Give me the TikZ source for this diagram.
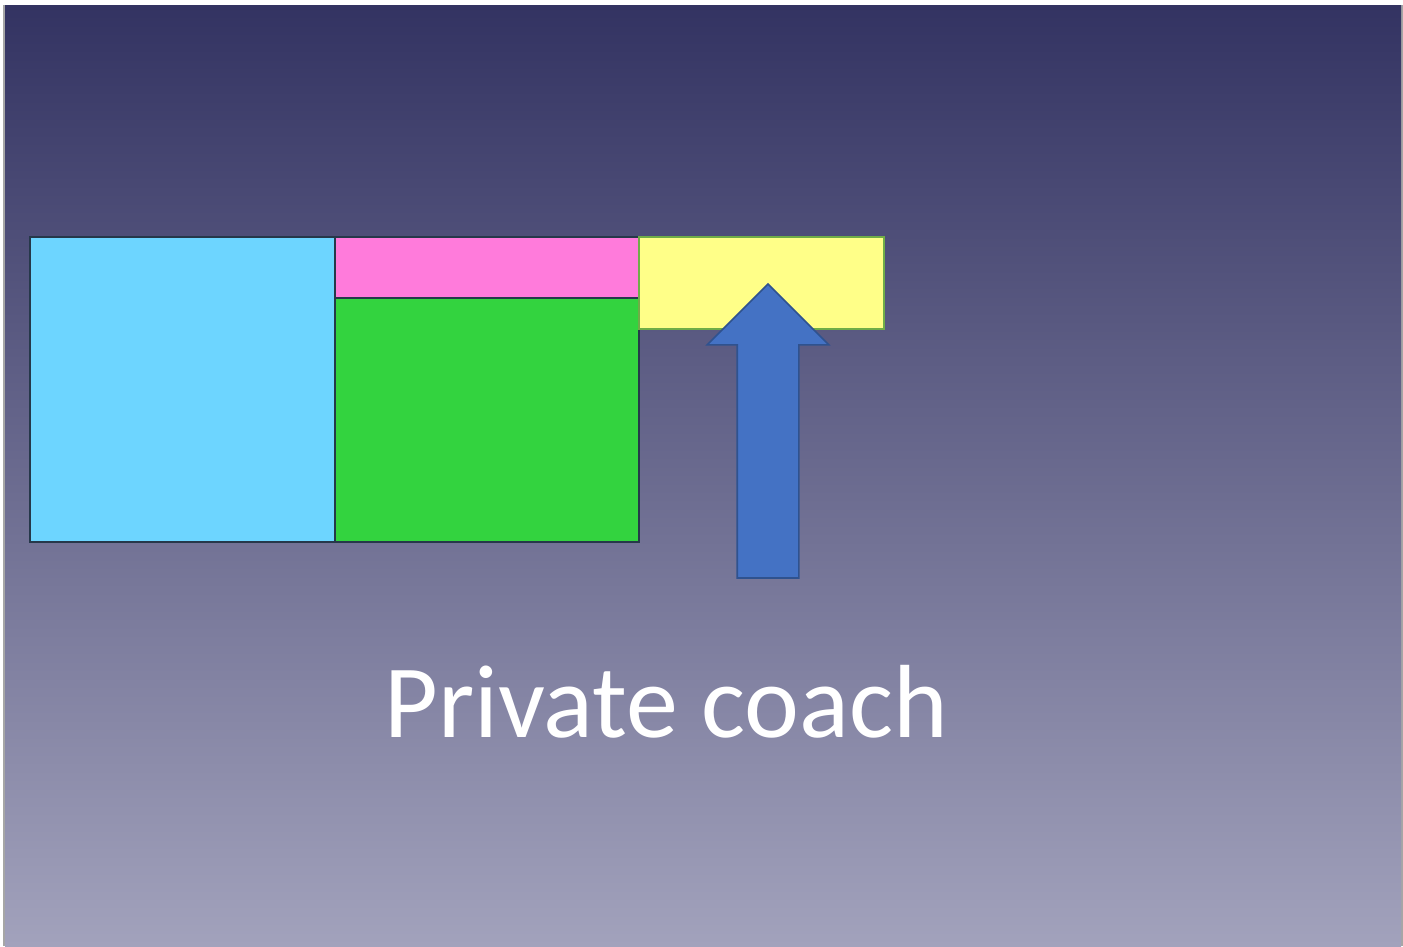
\documentclass[tikz,border=0pt]{standalone}
\usepackage{fontspec}
\setmainfont{Carlito}
\usetikzlibrary{shapes.arrows, positioning}
\definecolor{pcTop}{HTML}{333362}
\definecolor{pcBottom}{HTML}{A2A2BC}
\definecolor{pcCyan}{HTML}{6DD5FF}
\definecolor{pcPink}{HTML}{FF7BDB}
\definecolor{pcGreen}{HTML}{33D33F}
\definecolor{pcYellow}{HTML}{FFFF88}
\definecolor{pcYellowEdge}{HTML}{70AD47}
\definecolor{pcArrow}{HTML}{4472C4}
\definecolor{pcArrowEdge}{HTML}{2F528F}
\definecolor{pcEdge}{HTML}{26384A}
\tikzset{
  pcbox/.style={
    draw=pcEdge, line width=1.3pt, anchor=north west, inner sep=0pt, outer sep=0pt
  },
  pcarrow/.style={
    single arrow, draw=pcArrowEdge, fill=pcArrow, line width=1.6pt,
    shape border rotate=90, inner sep=0pt, inner ysep=0pt, text width=60pt,
    single arrow head extend=30pt, single arrow tip angle=90,
    minimum height=294pt, anchor=tip, outer sep=0pt
  },
  pclabel/.style={font=\fontsize{104}{110}\selectfont, text=white, anchor=base, inner sep=0pt}
}
\begin{document}
\begin{tikzpicture}[x=1pt, y=-1pt]
  \useasboundingbox (0,0) rectangle (1403,946);
  \fill[white] (0,0) rectangle (1403,946);
  \fill[black!35] (3,5) rectangle (1403,946);
  \fill[top color=pcTop, bottom color=pcBottom] (5,5) rectangle (1401,946);
  % blocks
  \node[pcbox, fill=pcCyan, minimum width=305pt, minimum height=305pt] (cyanbox) at (30,237) {};
  \node[pcbox, fill=pcPink, minimum width=304pt, minimum height=61pt] (pinkbox) at (cyanbox.north east) {};
  \node[pcbox, fill=pcGreen, minimum width=304pt, minimum height=244pt] (greenbox) at (pinkbox.south west) {};
  \node[pcbox, fill=pcYellow, draw=pcYellowEdge, minimum width=245pt, minimum height=92pt] (yellowbox) at (pinkbox.north east) {};
  % arrow
  \node[pcarrow] (push) at (768,284) {};
  % caption
  \node[pclabel] (caption) at (666,737) {Private coach};
\end{tikzpicture}
\end{document}
